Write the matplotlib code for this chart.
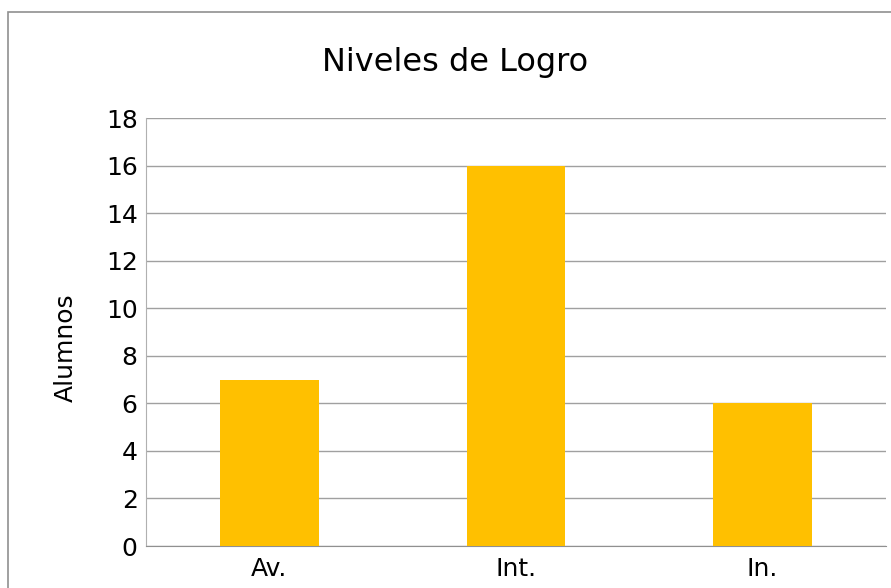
import matplotlib
matplotlib.use("Agg")
import matplotlib.pyplot as plt
from matplotlib.patches import Rectangle

categories = ["Av.", "Int.", "In."]
values = [7, 16, 6]
yticks = list(range(0, 19, 2))

fig = plt.figure(figsize=(8.91, 5.88), dpi=100)
fig.patches.append(Rectangle((8/891, -0.1), 1.5, 1 - 12/588 + 0.1, transform=fig.transFigure,
                             fill=False, edgecolor="#909090", linewidth=1.2))
ax = fig.add_axes([146/891, 1 - 546/588, 740/891, (546 - 118)/588])
x = list(range(len(categories)))
ax.bar(x, values, width=0.4, color="#FFC000", zorder=3)
ax.set_xlim(-0.5, 2.5)
ax.set_ylim(0, 18)
ax.set_yticks(yticks)
ax.set_xticks(x)
ax.set_xticklabels(categories)
ax.tick_params(axis="y", length=0, labelsize=18, pad=6)
ax.tick_params(axis="x", length=0, labelsize=18, pad=8)
ax.yaxis.grid(True, color="#A0A0A0", linewidth=1, zorder=0)
for s in ["top", "right"]:
    ax.spines[s].set_visible(False)
ax.spines["left"].set_color("#B0B0B0")
ax.spines["bottom"].set_color("#909090")
ax.set_ylabel("Alumnos", fontsize=18)
ax.yaxis.set_label_coords(66/891, 1 - 348/588, transform=fig.transFigure)
ax.yaxis.label.set_va("center")
fig.text(455/891, 1 - 63/588, "Niveles de Logro", fontsize=23, ha="center", va="center")
fig.savefig("out.png", dpi=100)
